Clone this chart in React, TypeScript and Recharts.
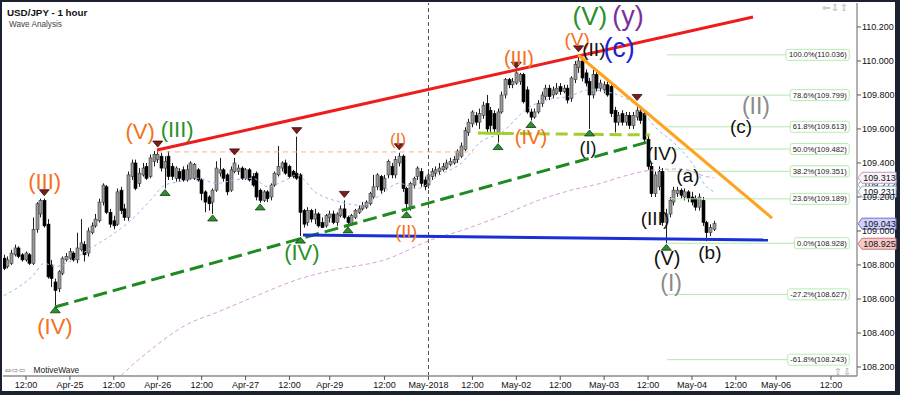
import React from 'react';
import { ComposedChart, Bar, Line, XAxis, YAxis, ReferenceLine, ReferenceDot } from 'recharts';

const FIRST_BAR = -6;

// hourly candles [open, high, low, close], bar index starts at FIRST_BAR
const candles: number[][] = [
  [108.84,108.86,108.77,108.78],[108.79,108.85,108.78,108.83],[108.81,108.89,108.80,108.87],[108.86,108.92,108.85,108.90],
  [108.90,108.91,108.84,108.85],[108.86,108.87,108.82,108.83],[108.83,108.88,108.82,108.87],[108.86,108.87,108.80,108.81],
  [108.81,109.08,108.80,109.01],[109.01,109.17,108.99,109.16],[109.10,109.19,109.08,109.18],[109.18,109.19,109.02,109.03],
  [109.04,109.07,108.72,108.73],[108.80,108.83,108.67,108.72],[108.70,108.72,108.56,108.65],[108.66,108.77,108.64,108.76],
  [108.75,108.85,108.74,108.84],[108.83,108.87,108.82,108.85],[108.84,108.90,108.83,108.88],[108.87,108.88,108.82,108.83],
  [108.83,108.99,108.81,108.90],[108.89,109.07,108.88,108.93],[108.92,108.94,108.82,108.86],[108.87,109.02,108.85,109.00],
  [108.99,109.05,108.98,109.03],[109.03,109.10,109.02,109.07],[109.06,109.19,109.05,109.17],[109.17,109.28,109.15,109.27],
  [109.26,109.27,109.10,109.11],[109.11,109.13,109.02,109.04],[109.06,109.09,109.01,109.03],[109.04,109.25,109.03,109.23],
  [109.24,109.26,109.10,109.12],[109.13,109.16,109.06,109.08],[109.08,109.35,109.06,109.33],[109.32,109.42,109.30,109.40],
  [109.40,109.42,109.24,109.25],[109.28,109.37,109.26,109.34],[109.33,109.40,109.32,109.37],[109.38,109.40,109.30,109.31],
  [109.32,109.45,109.31,109.43],[109.41,109.47,109.38,109.45],[109.42,109.476,109.40,109.45],[109.44,109.46,109.35,109.37],
  [109.37,109.44,109.25,109.41],[109.44,109.47,109.30,109.32],[109.38,109.40,109.30,109.32],[109.31,109.38,109.29,109.37],
  [109.35,109.37,109.29,109.31],[109.36,109.38,109.29,109.30],[109.30,109.39,109.29,109.36],[109.31,109.41,109.30,109.40],
  [109.31,109.40,109.30,109.39],[109.36,109.37,109.29,109.30],[109.30,109.31,109.18,109.22],[109.23,109.24,109.11,109.17],
  [109.20,109.21,109.12,109.16],[109.17,109.25,109.10,109.24],[109.24,109.41,109.23,109.37],[109.34,109.43,109.32,109.36],
  [109.36,109.37,109.29,109.31],[109.33,109.34,109.21,109.23],[109.24,109.38,109.23,109.36],[109.35,109.43,109.34,109.40],
  [109.35,109.39,109.33,109.37],[109.37,109.38,109.30,109.31],[109.31,109.37,109.30,109.36],[109.36,109.37,109.29,109.30],
  [109.32,109.34,109.26,109.27],[109.34,109.35,109.18,109.20],[109.24,109.25,109.165,109.18],[109.18,109.24,109.17,109.23],
  [109.23,109.24,109.17,109.19],[109.20,109.28,109.18,109.27],[109.27,109.35,109.26,109.34],[109.33,109.50,109.32,109.38],
  [109.37,109.41,109.35,109.40],[109.40,109.42,109.33,109.34],[109.38,109.39,109.31,109.32],[109.35,109.36,109.31,109.32],
  [109.34,109.555,109.30,109.31],[109.33,109.34,108.97,109.11],[109.12,109.13,109.02,109.04],[109.05,109.14,109.03,109.12],
  [109.12,109.13,109.05,109.07],[109.07,109.13,109.04,109.10],[109.10,109.11,109.02,109.03],[109.05,109.08,109.02,109.02],
  [109.03,109.10,109.02,109.09],[109.08,109.12,109.05,109.10],[109.10,109.12,109.04,109.05],[109.05,109.11,109.03,109.10],
  [109.09,109.15,109.08,109.13],[109.13,109.18,109.07,109.08],[109.08,109.09,109.03,109.05],[109.04,109.10,109.03,109.09],
  [109.08,109.13,109.07,109.12],[109.11,109.15,109.10,109.13],[109.13,109.17,109.12,109.15],[109.14,109.18,109.13,109.17],
  [109.16,109.23,109.15,109.22],[109.20,109.33,109.19,109.26],[109.26,109.34,109.24,109.33],[109.32,109.33,109.22,109.24],
  [109.25,109.33,109.23,109.31],[109.33,109.42,109.31,109.41],[109.38,109.40,109.31,109.33],[109.33,109.44,109.31,109.42],
  [109.40,109.46,109.38,109.44],[109.44,109.45,109.23,109.25],[109.25,109.26,109.12,109.16],[109.14,109.29,109.12,109.28],
  [109.27,109.32,109.25,109.31],[109.32,109.38,109.30,109.37],[109.35,109.37,109.26,109.28],[109.30,109.32,109.24,109.26],
  [109.27,109.34,109.25,109.33],[109.32,109.37,109.30,109.35],[109.34,109.38,109.32,109.36],[109.35,109.40,109.33,109.37],
  [109.36,109.40,109.35,109.38],[109.37,109.42,109.36,109.40],[109.39,109.43,109.38,109.41],[109.40,109.44,109.39,109.42],
  [109.42,109.48,109.40,109.47],[109.44,109.52,109.43,109.50],[109.48,109.61,109.47,109.59],[109.58,109.66,109.56,109.64],
  [109.63,109.71,109.61,109.70],[109.68,109.70,109.62,109.64],[109.64,109.72,109.60,109.69],[109.68,109.76,109.66,109.74],
  [109.75,109.80,109.58,109.60],[109.71,109.73,109.58,109.62],[109.69,109.71,109.58,109.60],[109.58,109.72,109.52,109.70],
  [109.70,109.82,109.69,109.80],[109.80,109.90,109.78,109.89],[109.89,109.90,109.84,109.86],[109.86,109.90,109.84,109.88],
  [109.87,109.94,109.86,109.93],[109.88,109.93,109.86,109.92],[109.92,109.93,109.75,109.76],[109.83,109.85,109.69,109.70],
  [109.70,109.72,109.65,109.67],[109.67,109.72,109.66,109.70],[109.70,109.77,109.69,109.75],[109.75,109.82,109.73,109.80],
  [109.79,109.86,109.77,109.84],[109.84,109.86,109.77,109.79],[109.80,109.85,109.78,109.83],[109.81,109.87,109.80,109.84],
  [109.85,109.87,109.80,109.82],[109.82,109.86,109.81,109.84],[109.84,109.86,109.75,109.77],[109.78,109.91,109.76,109.90],
  [109.89,110.00,109.87,109.98],[109.96,110.036,109.93,110.00],[110.00,110.02,109.88,109.90],[109.93,109.95,109.85,109.87],
  [109.88,109.90,109.60,109.80],[109.80,109.95,109.78,109.92],[109.92,109.94,109.82,109.84],[109.84,109.89,109.82,109.87],
  [109.83,109.88,109.81,109.86],[109.86,109.88,109.79,109.80],[109.85,109.86,109.67,109.69],[109.71,109.73,109.58,109.64],
  [109.64,109.70,109.62,109.68],[109.69,109.71,109.62,109.64],[109.64,109.70,109.62,109.68],[109.68,109.70,109.60,109.62],
  [109.62,109.70,109.60,109.68],[109.67,109.75,109.65,109.71],[109.70,109.73,109.63,109.65],[109.69,109.71,109.52,109.54],
  [109.54,109.56,109.36,109.38],[109.38,109.40,109.20,109.22],[109.22,109.35,109.20,109.33],[109.26,109.38,109.24,109.35],
  [109.35,109.37,109.03,109.05],[109.05,109.13,108.928,109.10],[109.10,109.20,109.08,109.18],[109.17,109.26,109.15,109.24],
  [109.22,109.26,109.20,109.24],[109.24,109.25,109.19,109.21],[109.20,109.25,109.18,109.23],[109.23,109.24,109.17,109.19],
  [109.20,109.23,109.15,109.17],[109.19,109.21,109.12,109.14],[109.14,109.22,109.12,109.20],[109.18,109.20,109.03,109.05],
  [109.05,109.06,108.94,108.99],[108.99,109.04,108.97,109.02],[109.01,109.06,109.00,109.043],
];

// moving averages [bar index, price]
const maFast: number[][] = [
  [-6,108.62],[2,108.74],[5,108.81],[8,108.79],[11,108.81],[17,108.89],[23,108.97],[28,109.05],[34,109.18],[38,109.27],
  [42,109.29],[47,109.31],[52,109.28],[57,109.30],[62,109.31],[66,109.26],[71,109.30],[74,109.33],[79,109.23],[86,109.17],
  [92,109.15],[96,109.20],[102,109.28],[107,109.25],[113,109.33],[119,109.40],[124,109.52],[130,109.58],[137,109.72],
  [142,109.77],[148,109.79],[154,109.83],[163,109.79],[169,109.69],[172,109.61],[177,109.52],[182,109.40],[186,109.26],[188,109.231],
];
const maSlow: number[][] = [
  [22,108.06],[26,108.15],[34,108.30],[44,108.45],[52,108.52],[62,108.61],[75,108.72],[84,108.77],[98,108.83],[111,108.95],
  [120,109.01],[130,109.09],[140,109.18],[149,109.24],[157,109.28],[163,109.32],[172,109.36],[179,109.365],[186,109.32],[188,109.313],
];

const xTickIndex = [0, 12, 24, 36, 48, 60, 72, 83, 98, 110, 122, 134, 146, 158, 170, 182, 194, 205, 220];
const xTickLabels = ['12:00', 'Apr-25', '12:00', 'Apr-26', '12:00', 'Apr-27', '12:00', 'Apr-29', '12:00', 'May-2018', '12:00', 'May-02', '12:00', 'May-03', '12:00', 'May-04', '12:00', 'May-06', '12:00'];
const priceTicks = [108.2, 108.4, 108.6, 108.8, 109.0, 109.2, 109.4, 109.6, 109.8, 110.0, 110.2];

const fibPct = ['100.0%', '78.6%', '61.8%', '50.0%', '38.2%', '23.6%', '0.0%', '-27.2%', '-61.8%'];
const fibPrice = [110.036, 109.799, 109.613, 109.482, 109.351, 109.189, 108.928, 108.627, 108.243];
const FIB_START = 175.2;
const FIB_END = 225;

// trend lines: [i1, p1, i2, p2]
const redLine = [35.8, 109.476, 198.7, 110.259];
const greenDashLine = [7.9, 108.553, 170.0, 109.524];
const blueLine = [75.7, 108.976, 202.8, 108.947];
const orangeLine = [150.9, 110.035, 203.9, 109.076];
const limeSolid = [123.5, 109.576, 130.0, 109.574];
const limeDash = [130.0, 109.574, 170.5, 109.565];
const peachDash = [35.8, 109.465, 122.2, 109.465];
const monthDivider = 110;

const swingHighs: number[][] = [[5,109.19],[36,109.476],[57,109.43],[74,109.555],[87,109.18],[102,109.46],[134,109.94],[151,110.036],[167,109.75]];
const swingLows: number[][] = [[8,108.56],[38,109.25],[51,109.10],[64,109.165],[75,108.97],[88,109.03],[104,109.12],[129,109.52],[138,109.65],[154,109.60],[175,108.928]];

const waveText = ['(III)', '(V)', '(III)', '(IV)', '(IV)', '(I)', '(II)', '(III)', '(IV)', '(V)', '(V)', '(y)', '(II)', '(c)', '(I)', '(IV)', '(III)', '(V)', '(a)', '(b)', '(c)', '(II)', '(I)'];
const waveIdx = [5.1, 31.2, 41.3, 7.9, 75.4, 101.7, 103.9, 134.7, 138.0, 150.6, 154.1, 164.5, 155.2, 162.1, 153.6, 173.8, 171.9, 175.2, 180.9, 186.9, 195.4, 199.5, 176.3];
const wavePrice = [109.29, 109.588, 109.594, 108.441, 108.876, 109.541, 108.994, 110.018, 109.553, 110.124, 110.265, 110.265, 110.065, 110.076, 109.488, 109.453, 109.071, 108.841, 109.324, 108.871, 109.612, 109.735, 108.694];
const waveColor = ['#f5701a', '#f5701a', '#2b8f2b', '#f5701a', '#2b8f2b', '#f5701a', '#f5701a', '#f5701a', '#f5701a', '#f5701a', '#2b8f2b', '#7a2fa0', '#111', '#1c22d6', '#111', '#111', '#111', '#111', '#111', '#111', '#111', '#8a8a8a', '#8a8a8a'];
const waveSize = [22, 22, 22, 22, 22, 17, 18, 20, 20, 19, 26, 27, 19, 27, 18, 19, 19, 20, 19, 19, 19, 23, 23];

const tagPrice = [109.272, 109.313, 109.231, 109.043, 108.925];
const tagFill = ['#ffffff', '#fbf2fb', '#ffffff', '#cfd0fb', '#f7c9c9'];
const tagStroke = ['#9aa6c8', '#b9a0b9', '#8fb0dc', '#6f6fcf', '#cc7777'];

const X_DOMAIN: [number, number] = [-6.29, 227.11];
const Y_DOMAIN: [number, number] = [108.147, 110.341];
const FONT = '"Liberation Sans", Arial, sans-serif';

const toMap = (arr: number[][]) => new Map(arr.map((d) => [d[0], d[1]]));
const fastMap = toMap(maFast);
const slowMap = toMap(maSlow);

const rows = candles.map((c, k) => {
  const i = FIRST_BAR + k;
  return { i, o: c[0], h: c[1], l: c[2], c: c[3], fast: fastMap.has(i) ? fastMap.get(i) : null, slow: slowMap.has(i) ? slowMap.get(i) : null };
});

function CandleShape(props: any) {
  const { x, y, width, height, payload } = props;
  if (!payload || x == null || y == null) return null;
  const top = Math.min(y, y + height);
  const span = Math.abs(height);
  const { o, h, l, c } = payload;
  const range = h - l || 1;
  const py = (p: number) => top + ((h - p) / range) * span;
  const cx = Math.round(x + width / 2) + 0.5;
  const up = c >= o;
  const bt = py(Math.max(o, c));
  const bb = py(Math.min(o, c));
  return (
    <g>
      <line x1={cx} x2={cx} y1={top} y2={top + span} stroke="#1e1e1e" strokeWidth={1} />
      <rect x={cx - 1.5} y={bt} width={3} height={Math.max(1, bb - bt)} fill={up ? '#9a9a9a' : '#000'} stroke={up ? '#3a3a3a' : '#000'} strokeWidth={0.6} />
    </g>
  );
}

const seg = (s: number[]) => [{ x: s[0], y: s[1] }, { x: s[2], y: s[3] }] as any;

const textWidth = (s: string, size: number) => {
  let w = 0;
  for (const ch of s) {
    if (ch >= '0' && ch <= '9') w += 0.556;
    else if (ch === '.') w += 0.278;
    else if (ch === '%') w += 0.889;
    else if (ch === '(' || ch === ')' || ch === '-') w += 0.333;
    else w += 0.556;
  }
  return w * size;
};

export default function App() {
  return (
    <div style={{ position: 'absolute', left: 0, top: 0, width: 900, height: 395, background: '#1c2130' }}>
      <div style={{ position: 'absolute', left: 2, top: 2, width: 893, height: 389, background: '#ffffff' }} />
      <div style={{ position: 'absolute', left: 0, top: 0 }}>
        <ComposedChart width={900} height={395} data={rows} margin={{ top: 3, right: 3, bottom: 3, left: 3 }}>
          <XAxis
            type="number"
            dataKey="i"
            domain={X_DOMAIN}
            allowDataOverflow
            ticks={xTickIndex}
            interval={0}
            tickFormatter={(v: number) => xTickLabels[xTickIndex.indexOf(v)] ?? ''}
            height={16}
            tickSize={4}
            tickMargin={2}
            axisLine={{ stroke: '#a8a8a8', strokeWidth: 2 }}
            tickLine={{ stroke: '#555' }}
            tick={{ fontSize: 9, fill: '#111', fontFamily: FONT }}
          />
          <YAxis
            orientation="right"
            type="number"
            domain={Y_DOMAIN}
            allowDataOverflow
            ticks={priceTicks}
            interval={0}
            width={40}
            tickSize={4}
            tickMargin={1}
            tickFormatter={(v: number) => v.toFixed(3)}
            axisLine={{ stroke: '#9a9a9a', strokeWidth: 1.5 }}
            tickLine={{ stroke: '#555' }}
            tick={{ fontSize: 9, fill: '#111', fontFamily: FONT, textAnchor: 'start' }}
          />
          {fibPrice.map((p, k) => (
            <ReferenceLine key={'fl' + k} segment={[{ x: FIB_START, y: p }, { x: FIB_END, y: p }] as any} stroke="#aeeaae" strokeWidth={1} ifOverflow="visible" />
          ))}
          <ReferenceLine x={monthDivider} stroke="#555" strokeDasharray="4 3" strokeWidth={1} />
          <ReferenceLine segment={seg(peachDash)} stroke="#f6b48c" strokeDasharray="5 4" strokeWidth={1} ifOverflow="visible" />
          <Bar dataKey={(d: any) => [d.l, d.h]} barSize={3} shape={<CandleShape />} isAnimationActive={false} />
          <Line dataKey="fast" type="monotone" stroke="#9fb6ec" strokeDasharray="3 3" strokeWidth={1} dot={false} connectNulls isAnimationActive={false} />
          <Line dataKey="slow" type="monotone" stroke="#d9a0d9" strokeDasharray="4 3" strokeWidth={1} dot={false} connectNulls isAnimationActive={false} />
          <ReferenceLine segment={seg(redLine)} stroke="#ee1c1c" strokeWidth={3} ifOverflow="visible" />
          <ReferenceLine segment={seg(greenDashLine)} stroke="#1f8a1f" strokeWidth={3} strokeDasharray="14 6" ifOverflow="visible" />
          <ReferenceLine segment={seg(blueLine)} stroke="#1a2fd6" strokeWidth={3} ifOverflow="visible" />
          <ReferenceLine segment={seg(orangeLine)} stroke="#ffa21e" strokeWidth={3} ifOverflow="visible" />
          <ReferenceLine segment={seg(limeSolid)} stroke="#a3cf2e" strokeWidth={3} ifOverflow="visible" />
          <ReferenceLine segment={seg(limeDash)} stroke="#a3cf2e" strokeWidth={3} strokeDasharray="12 6" ifOverflow="visible" />
          {swingHighs.map((d, k) => (
            <ReferenceDot key={'sh' + k} x={d[0]} y={d[1]} r={0} ifOverflow="visible"
              shape={(pp: any) => (
                <polygon points={`${pp.cx - 5},${pp.cy - 9} ${pp.cx + 5},${pp.cy - 9} ${pp.cx},${pp.cy - 3}`} fill="#7d1c1c" stroke="#3b0b0b" strokeWidth={0.8} />
              )} />
          ))}
          {swingLows.map((d, k) => (
            <ReferenceDot key={'sl' + k} x={d[0]} y={d[1]} r={0} ifOverflow="visible"
              shape={(pp: any) => (
                <polygon points={`${pp.cx - 5},${pp.cy + 7} ${pp.cx + 5},${pp.cy + 7} ${pp.cx},${pp.cy + 1}`} fill="#2f8f2f" stroke="#0f3f0f" strokeWidth={0.8} />
              )} />
          ))}
          {fibPrice.map((p, k) => {
            const label = `${fibPct[k]}(${p.toFixed(3)})`;
            const w = textWidth(label, 7.6) + 5;
            return (
              <ReferenceDot key={'fb' + k} x={FIB_END} y={p} r={0} ifOverflow="visible"
                shape={(pp: any) => (
                  <g>
                    <rect x={pp.cx - w} y={pp.cy - 5.5} width={w} height={11} rx={2} fill="#ffffff" stroke="#b4ecb4" strokeWidth={1} />
                    <text x={pp.cx - 2.5} y={pp.cy} textAnchor="end" dominantBaseline="central" fontSize={7.6} fontFamily={FONT} fill="#222">{label}</text>
                  </g>
                )} />
            );
          })}
          {waveText.map((t, k) => (
            <ReferenceDot key={'wv' + k} x={waveIdx[k]} y={wavePrice[k]} r={0} ifOverflow="visible"
              shape={(pp: any) => (
                <text x={pp.cx} y={pp.cy} textAnchor="middle" dominantBaseline="central" fontSize={waveSize[k]} fontFamily={FONT} fill={waveColor[k]}>{t}</text>
              )} />
          ))}
          {tagPrice.map((p, k) => (
            <ReferenceDot key={'tg' + k} x={X_DOMAIN[1]} y={p} r={0} ifOverflow="visible"
              shape={(pp: any) => {
                const x0 = pp.cx + 1;
                const hh = 5.5;
                return (
                  <g>
                    <path d={`M${x0},${pp.cy} L${x0 + 4},${pp.cy - hh} L${x0 + 38},${pp.cy - hh} L${x0 + 38},${pp.cy + hh} L${x0 + 4},${pp.cy + hh} Z`} fill={tagFill[k]} stroke={tagStroke[k]} strokeWidth={1} />
                    <text x={x0 + 21.5} y={pp.cy} textAnchor="middle" dominantBaseline="central" fontSize={9} fontFamily={FONT} fill="#111">{p.toFixed(3)}</text>
                  </g>
                );
              }} />
          ))}
        </ComposedChart>
      </div>
      <svg width={900} height={395} style={{ position: 'absolute', left: 0, top: 0, pointerEvents: 'none' }}>
        <text x={7} y={15.5} fontSize={9.8} fontWeight="bold" fontFamily={FONT} fill="#111">USD/JPY - 1 hour</text>
        <text x={9} y={27} fontSize={8.2} fontFamily={FONT} fill="#444">Wave Analysis</text>
        <text x={822} y={10.5} fontSize={9.5} fontFamily='"DejaVu Sans", sans-serif' fill="#9a9a9a" letterSpacing={1}>⇦⇩⇧</text>
        <text x={834} y={375} fontSize={9.5} fontFamily='"DejaVu Sans", sans-serif' fill="#9a9a9a" letterSpacing={1}>⇧⇩</text>
        <text x={5} y={373} fontSize={8} fontFamily='"DejaVu Sans", sans-serif' fill="#8a8a8a">⇔⇨⇦</text>
        <text x={33.5} y={373} fontSize={8.4} fontFamily={FONT} fill="#222">MotiveWave</text>
      </svg>
    </div>
  );
}
